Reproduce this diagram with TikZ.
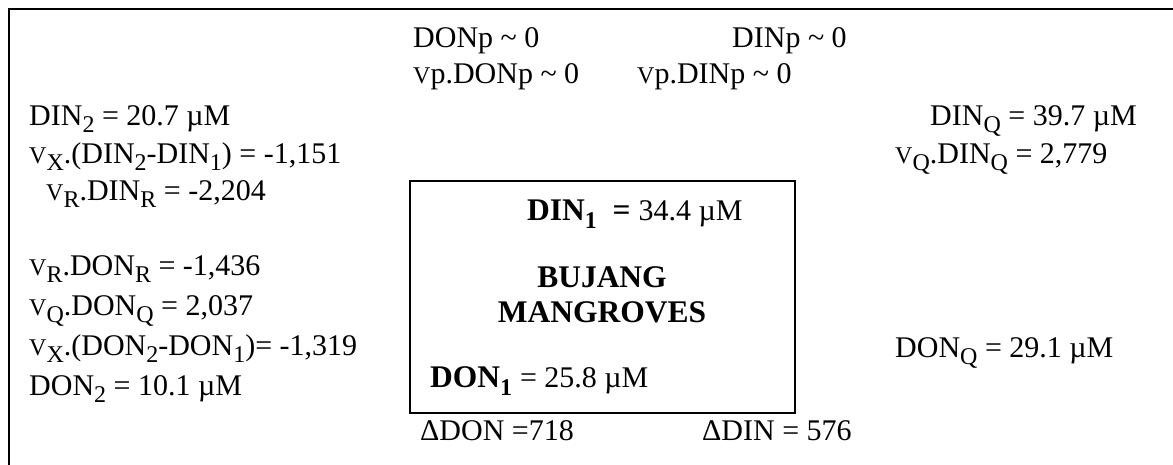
\documentclass[tikz,border=0pt]{standalone}
\usepackage{fontspec}
\setmainfont{Liberation Serif}
% lowered index letters and the small V used for flow rates
\newcommand\lo[1]{\raisebox{-0.26em}{\fontsize{24}{24}\selectfont #1}}
\newcommand\sv{{\fontsize{24}{24}\selectfont V}}
\newcommand\tl{\char"007E}
\begin{document}
\begin{tikzpicture}[x=1pt,y=-1pt,
  txt/.style={inner sep=0pt, anchor=base west, font=\fontsize{30}{34}\selectfont},
  btxt/.style={txt, font=\fontsize{31.5}{36}\selectfont},
  ctxt/.style={btxt, anchor=base},
  frame/.style={line width=2pt},
  basin/.style={draw, line width=1.5pt, inner sep=0pt, anchor=north west}]
\useasboundingbox (0,0) rectangle (1173,464);

% outer frame (only top and left edges fall inside the page)
\coordinate (fbl) at (9,480);
\coordinate (ftl) at (9,9);
\coordinate (ftr) at (1190,9);
\draw[frame] (fbl) -- (ftl) -- (ftr);

% the mangrove system box
\node[basin, minimum width=385pt, minimum height=232pt] (box) at (409,180) {};

% precipitation terms
\node[txt] (donp) at (413,47) {DONp \tl{} 0};
\node[txt] (dinp) at (732,47) {DINp \tl{} 0};
\node[txt] (vpdonp) at (413,83) {\sv p.DONp \tl{} 0};
\node[txt] (vpdinp) at (637,83) {\sv p.DINp \tl{} 0};

% sea side (left)
\node[txt] (din2) at (29,125) {DIN\lo{2} = 20.7 µM};
\node[txt] (vxdin) at (29,163) {\sv\lo{X}.(DIN\lo{2}-DIN\lo{1}) = -1,151};
\node[txt] (vrdin) at (46,200) {\sv\lo{R}.DIN\lo{R} = -2,204};
\node[txt] (vrdon) at (29,275) {\sv\lo{R}.DON\lo{R} = -1,436};
\node[txt] (vqdon) at (29,315) {\sv\lo{Q}.DON\lo{Q} = 2,037};
\node[txt] (vxdon) at (29,355) {\sv\lo{X}.(DON\lo{2}-DON\lo{1})= -1,319};
\node[txt] (don2) at (29,395) {DON\lo{2} = 10.1 µM};

% river side (right)
\node[txt] (dinq) at (930,125) {DIN\lo{Q} = 39.7 µM};
\node[txt] (vqdinq) at (895,163) {\sv\lo{Q}.DIN\lo{Q} = 2,779};
\node[txt] (donq) at (895,357) {DON\lo{Q} = 29.1 µM};

% inside the box
\node[btxt] (din1) at (527,220) {\textbf{DIN\lo{\textbf{1}}\ \ =} {\fontsize{30}{34}\selectfont 34.4 µM}};
\node[ctxt] (bujang) at (602,287) {\textbf{BUJANG}};
\node[ctxt] (mangroves) at (602,322) {\textbf{MANGROVES}};
\node[btxt] (don1) at (430,387) {\textbf{DON\lo{\textbf{1}}} {\fontsize{30}{34}\selectfont = 25.8 µM}};

% net fluxes
\node[txt] (ddon) at (420,440) {ΔDON =718};
\node[txt] (ddin) at (702,440) {ΔDIN = 576};
\end{tikzpicture}
\end{document}
